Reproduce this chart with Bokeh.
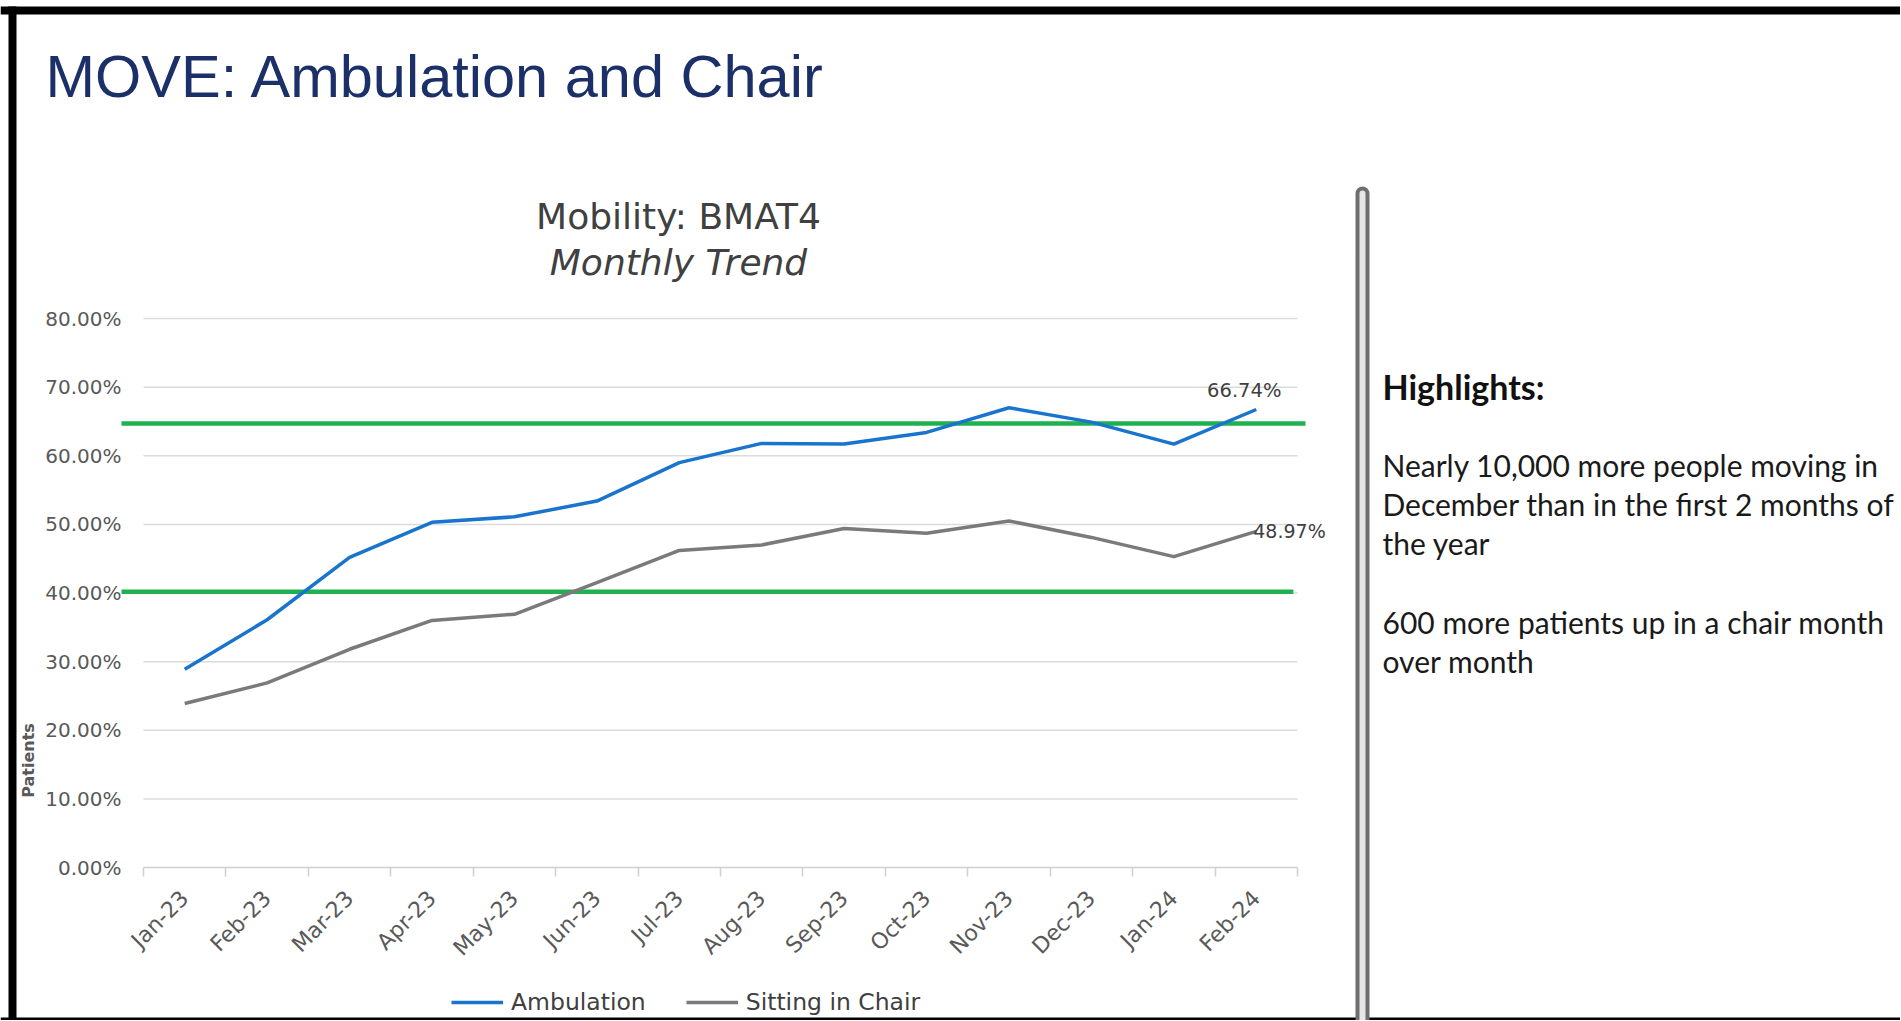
import math
from bokeh.plotting import figure
from bokeh.models import (Range1d, FixedTicker, Label, LabelSet, Legend, LegendItem,
                          BoxAnnotation, ColumnDataSource, LinearAxis)
from bokeh.core.properties import value
from bokeh.embed import file_html
from bokeh.resources import INLINE

# ---------------- data ----------------
months = ["Jan-23", "Feb-23", "Mar-23", "Apr-23", "May-23", "Jun-23", "Jul-23",
          "Aug-23", "Sep-23", "Oct-23", "Nov-23", "Dec-23", "Jan-24", "Feb-24"]
ambulation = [28.9, 36.1, 45.2, 50.3, 51.1, 53.4, 59.0, 61.8, 61.7, 63.4, 67.0, 64.9, 61.7, 66.74]
sitting_in_chair = [23.9, 26.9, 31.8, 36.0, 36.9, 41.5, 46.2, 47.0, 49.4, 48.7, 50.5, 48.1, 45.3, 48.97]
upper_target = 64.7
lower_target = 40.2
y_ticks = [0, 10, 20, 30, 40, 50, 60, 70, 80]
series_names = ["Ambulation", "Sitting in Chair"]
page_title = "MOVE: Ambulation and Chair"
chart_title = ["Mobility: BMAT4", "Monthly Trend"]
y_label = "Patients"
highlights_head = "Highlights:"
highlights_lines = ["Nearly 10,000 more people moving in",
                    "December than in the first 2 months of",
                    "the year",
                    "",
                    "600 more patients up in a chair month",
                    "over month"]

# ---------------- geometry (page pixels, origin top-left) ----------------
W, H = 1900, 1020
axis_l, axis_r = 143, 1297          # category axis extent
zero_y, top80_y = 867, 318           # y of 0% and 80%
lab_right = 121                      # right edge of y tick labels / start of target lines
n = len(months)
unit = (axis_r - axis_l) / n
k = (zero_y - top80_y) / 80.0
x_lo = -0.5 - axis_l / unit
x_hi = x_lo + W / unit
y_lo = -(H - zero_y) / k
y_hi = zero_y / k

p = figure(width=W, height=H, x_range=Range1d(x_lo, x_hi), y_range=Range1d(y_lo, y_hi),
           output_backend="svg", toolbar_location=None,
           x_axis_location=None, y_axis_location=None,
           min_border=0, min_border_left=0, min_border_right=0,
           min_border_top=0, min_border_bottom=0)
p.outline_line_color = None
p.background_fill_color = "white"
p.border_fill_color = "white"
p.grid.visible = False

p.extra_x_ranges = {"px": Range1d(0, W)}
p.extra_y_ranges = {"py": Range1d(H, 0)}

# axes (drawn at fixed locations inside the frame)
xa = LinearAxis(fixed_location=0)
xa.ticker = FixedTicker(ticks=list(range(n)), minor_ticks=[i - 0.5 for i in range(n + 1)])
xa.major_label_overrides = {i: m for i, m in enumerate(months)}
xa.major_label_orientation = math.pi / 4
xa.bounds = (-0.5, n - 0.5)
xa.major_tick_line_color = None
xa.major_tick_out = 0
xa.major_tick_in = 0
xa.minor_tick_line_color = "#d0d0d0"
xa.minor_tick_line_width = 1.5
xa.minor_tick_out = 9
xa.minor_tick_in = 0
xa.axis_line_color = "#d0d0d0"
xa.axis_line_width = 1.5
xa.major_label_standoff = 18
xa.major_label_text_font = "DejaVu Sans"
xa.major_label_text_font_size = "22px"
xa.major_label_text_color = "#595959"
p.add_layout(xa, "below")

ya = LinearAxis(fixed_location=x_lo + (lab_right + 1) / unit)
ya.ticker = FixedTicker(ticks=y_ticks, minor_ticks=[])
ya.major_label_overrides = {t: f"{t:.2f}%" for t in y_ticks}
ya.axis_line_color = None
ya.major_tick_line_color = None
ya.major_tick_out = 0
ya.major_tick_in = 0
ya.minor_tick_line_color = None
ya.major_label_standoff = 1
ya.major_label_text_font = "DejaVu Sans"
ya.major_label_text_font_size = "20px"
ya.major_label_text_color = "#595959"
p.add_layout(ya, "left")

# gridlines
p.segment(x0=-0.5, x1=n - 0.5, y0=y_ticks[1:], y1=y_ticks[1:], line_color="#dcdcdc", line_width=1.5)

# target lines
tl_x0 = x_lo + lab_right / unit
p.segment(x0=[tl_x0, tl_x0], x1=[n - 0.5 + 8 / unit, n - 0.55],
          y0=[upper_target, lower_target], y1=[upper_target, lower_target],
          line_color="#1fb04f", line_width=4.5)

xs = list(range(n))
r1 = p.line(xs, ambulation, line_color="#1874cd", line_width=3.5, line_join="round")
r2 = p.line(xs, sitting_in_chair, line_color="#7a7a7a", line_width=3.5, line_join="round")

# data labels for the last points
src_a = ColumnDataSource(dict(x=[xs[-1]], y=[ambulation[-1]], t=[f"{ambulation[-1]:.2f}%"]))
src_c = ColumnDataSource(dict(x=[xs[-1]], y=[sitting_in_chair[-1]], t=[f"{sitting_in_chair[-1]:.2f}%"]))
p.add_layout(LabelSet(x="x", y="y", text="t", source=src_a, text_align="center",
                      text_baseline="bottom", x_offset=-12, y_offset=7,
                      text_font=value("DejaVu Sans"), text_font_size=value("19.5px"),
                      text_color="#404040"))
p.add_layout(LabelSet(x="x", y="y", text="t", source=src_c, text_align="left",
                      text_baseline="middle", x_offset=-3, y_offset=0,
                      text_font=value("DejaVu Sans"), text_font_size=value("19px"),
                      text_color="#404040"))

# legend
legend = Legend(items=[LegendItem(label=series_names[0], renderers=[r1]),
                       LegendItem(label=series_names[1], renderers=[r2])],
                orientation="horizontal", location=(451, 4),
                padding=0, margin=0, spacing=40, glyph_width=52, glyph_height=24,
                label_standoff=8, border_line_color=None, background_fill_alpha=0,
                label_text_font="DejaVu Sans", label_text_font_size="23.5px",
                label_text_color="#404040")
p.add_layout(legend)

def lab(x, y, text, **kw):
    p.add_layout(Label(x=x, y=y, text=text, x_range_name="px", y_range_name="py", **kw))

# page title
lab(45, 76, page_title, text_font="Liberation Sans", text_font_size="59.5px",
    text_color="#1b3068", text_baseline="middle", text_align="left")

# chart title
lab(678, 216, chart_title[0], text_font="DejaVu Sans", text_font_size="36px",
    text_color="#404040", text_baseline="middle", text_align="center")
lab(678, 262, chart_title[1], text_font="DejaVu Sans", text_font_size="36px",
    text_font_style="italic", text_color="#404040", text_baseline="middle", text_align="center")

# y axis title
lab(28, 760, y_label, text_font="DejaVu Sans", text_font_size="16px", text_font_style="bold",
    text_color="#595959", text_baseline="middle", text_align="center", angle=math.pi / 2)

# highlights
lab(1382, 386, highlights_head, text_font="Lato", text_font_size="34px", text_font_style="bold",
    text_color="#111111", text_baseline="middle", text_align="left")
for i, line in enumerate(highlights_lines):
    if line:
        lab(1382, 464 + i * 39.3, line, text_font="Lato", text_font_size="30px",
            text_color="#1a1a1a", text_baseline="middle", text_align="left")

# borders and separator
def box(l, r, t, b, **kw):
    p.add_layout(BoxAnnotation(left=l, right=r, top=t, bottom=b,
                               x_range_name="px", y_range_name="py", **kw))

box(0, W, 6, 14, fill_color="black", fill_alpha=1, line_color=None)
box(8, 16, 6, H, fill_color="black", fill_alpha=1, line_color=None)
box(0, W, H - 3, H, fill_color="black", fill_alpha=1, line_color=None)
box(1357, 1367, 188, H + 8, fill_color="#e6e6e6", fill_alpha=1, line_color="#6f6f6f",
    line_alpha=1, line_width=4, border_radius=5)

open("out.html", "w").write(file_html(p, INLINE))
